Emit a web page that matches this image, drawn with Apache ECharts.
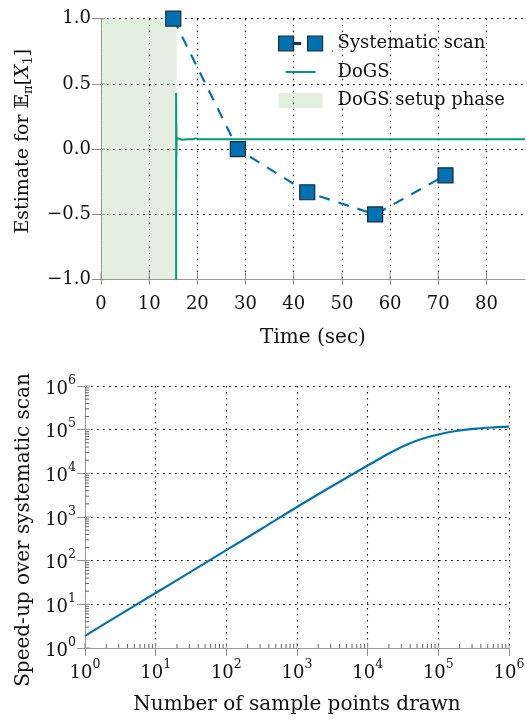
<!DOCTYPE html>
<html>
<head>
<meta charset="utf-8">
<script src="https://cdn.jsdelivr.net/npm/echarts@6/dist/echarts.min.js"></script>
<style>
html,body{margin:0;padding:0;background:#fff;}
#chart{width:527px;height:720px;}
</style>
</head>
<body>
<div id="chart"></div>
<script>
// ---------- data (top panel) ----------
const timeTicks = [0, 10, 20, 30, 40, 50, 60, 70, 80];
const estimateTicks = [-1.0, -0.5, 0.0, 0.5, 1.0];
const scanTime = [15.0, 28.4, 42.8, 56.9, 71.5];
const scanEstimate = [1.0, 0.0, -0.33, -0.5, -0.2];
const dogsTime = [15.6, 15.6, 15.62, 15.64, 15.66, 15.7, 15.8, 16.0, 16.4, 16.9, 17.4, 18.0, 19.0, 19.6, 20.2, 21.0, 23.0, 26.0, 30.0, 35.0, 40.0, 50.0, 60.0, 70.0, 80.0, 88.0];
const dogsEstimate = [-1.0, 0.43, -0.25, 0.2, -0.05, 0.06, 0.085, 0.07, 0.078, 0.072, 0.075, 0.077, 0.076, 0.083, 0.077, 0.076, 0.077, 0.077, 0.077, 0.077, 0.077, 0.077, 0.077, 0.077, 0.077, 0.077];
const setupPhaseEnd = 15.7;

// ---------- data (bottom panel) ----------
const samplePoints = [1, 3.16, 10, 31.6, 100, 316, 1000, 3162, 10000, 17783, 31623, 56234, 100000, 177828, 316228, 562341, 1000000];
const speedUp = [1.9, 5.9, 18.2, 56, 174, 537, 1700, 5130, 15100, 25700, 41700, 60300, 77600, 93300, 104700, 112200, 117500];
const logMajorTicks = [1, 10, 100, 1000, 10000, 100000, 1000000];
// minor tick positions of the log axes (2..9 times each decade; axis decoration only)
const logMinorTicks = [];
for (let d = 1; d < 1e6; d *= 10) for (let m = 2; m < 10; m++) logMinorTicks.push(m * d);

const FONT = 'DejaVu Serif';
const SHADE = 'rgba(120,175,110,0.2)';
const TICKCOL = '#8f8f8f';
const GRIDLINE = {show: true, lineStyle: {color: '#000', type: [1.6, 4.4], width: 1.1}};
const AXLINE = {show: true, onZero: false, lineStyle: {color: '#9a9a9a', width: 1}};

function fmtLin(v) { return v.toFixed(1).replace('-', '\u2212'); }
function fmtLog(v) { return '{b|10}{s|' + Math.round(Math.log10(v)) + '}'; }
const logRich = {
  b: {fontFamily: FONT, fontSize: 18, color: '#111', lineHeight: 24, verticalAlign: 'bottom'},
  s: {fontFamily: FONT, fontSize: 12.5, color: '#111', lineHeight: 14, verticalAlign: 'top'}
};
const NAME = {fontFamily: FONT, fontSize: 20, color: '#111'};

// inward tick marks drawn through the axes' own scales
function tickSeries(xi, yi, values, dir, base, len, color) {
  return {
    type: 'custom', coordinateSystem: 'cartesian2d', xAxisIndex: xi, yAxisIndex: yi,
    silent: true, clip: false, z: 6,
    encode: {x: 0, y: 1},
    data: values.map(v => dir === 'x' ? [v, base] : [base, v]),
    renderItem: function (params, api) {
      const p = api.coord([api.value(0), api.value(1)]);
      const shape = dir === 'x'
        ? {x1: p[0], y1: p[1], x2: p[0], y2: p[1] - len}
        : {x1: p[0], y1: p[1], x2: p[0] + len, y2: p[1]};
      return {type: 'line', shape: shape, style: {stroke: color, lineWidth: 1, fill: null}};
    }
  };
}

const chart = echarts.init(document.getElementById('chart'), null, {renderer: 'canvas'});
const option = {
  backgroundColor: '#fff',
  animation: false,
  textStyle: {fontFamily: FONT},
  grid: [
    {left: 101, top: 18.7, width: 424, height: 261, outerBoundsMode: 'none'},
    {left: 85, top: 386, width: 424, height: 262, outerBoundsMode: 'none'}
  ],
  legend: {
    orient: 'vertical', left: 278, top: 33, padding: 0, itemGap: 7.5,
    itemWidth: 54, itemHeight: 15,
    textStyle: {fontFamily: FONT, fontSize: 18, color: '#111', lineHeight: 21},
    data: [
      {name: 'Systematic scan', icon: 'path://M0,0H15V15H0Z M15,6.6H22V8.4H15Z M29,0H44V15H29Z M54,15h0.01v0.01h-0.01Z',
       itemStyle: {color: '#0072b2', borderColor: '#1c2b3a', borderWidth: 1.2}},
      {name: 'DoGS', icon: 'path://M0,0h0.01v0.01h-0.01Z M7,6.5H37V8.5H7Z M54,15h0.01v0.01h-0.01Z',
       itemStyle: {color: '#009e73', borderWidth: 0}},
      {name: 'DoGS setup phase', icon: 'path://M0,0H44V15H0Z M54,15h0.01v0.01h-0.01Z',
       itemStyle: {color: SHADE, borderWidth: 0}}
    ]
  },
  xAxis: [
    {gridIndex: 0, type: 'value', min: 0, max: 88, interval: 10,
     name: 'Time (sec)', nameLocation: 'middle', nameGap: 48, nameTextStyle: NAME,
     axisLine: AXLINE, axisTick: {show: true, length: 5, lineStyle: {color: TICKCOL}, customValues: timeTicks},
     axisLabel: {fontFamily: FONT, fontSize: 18, color: '#111', margin: 16, customValues: timeTicks, formatter: v => String(v)},
     splitLine: GRIDLINE},
    {gridIndex: 1, type: 'log', logBase: 10, min: 1, max: 1e6, splitNumber: 6,
     name: 'Number of sample points drawn', nameLocation: 'middle', nameGap: 47, nameTextStyle: NAME,
     axisLine: AXLINE, axisTick: {show: true, length: 8, lineStyle: {color: TICKCOL}},
     axisLabel: {margin: 10, formatter: fmtLog, rich: logRich},
     splitLine: GRIDLINE}
  ],
  yAxis: [
    {gridIndex: 0, type: 'value', min: -1, max: 1, interval: 0.5,
     name: 'Estimate for {bb|\uD835\uDD3C}{sub|\u03C0}[{it|X}{sub|1}]', nameLocation: 'middle', nameGap: 66, nameRotate: 90,
     nameTextStyle: {fontFamily: FONT, fontSize: 19, color: '#111', lineHeight: 24, padding: [0, 0, 0, 16],
       rich: {
         bb: {fontFamily: FONT, fontSize: 19, color: '#111', lineHeight: 24},
         sub: {fontFamily: FONT, fontSize: 13, color: '#111', lineHeight: 16, verticalAlign: 'bottom'},
         it: {fontFamily: FONT, fontSize: 19, fontStyle: 'italic', color: '#111', lineHeight: 24}
       }},
     axisLine: AXLINE, axisTick: {show: true, length: 9, lineStyle: {color: TICKCOL}, customValues: estimateTicks},
     axisLabel: {fontFamily: FONT, fontSize: 18, color: '#111', margin: 10, customValues: estimateTicks, formatter: fmtLin},
     splitLine: GRIDLINE},
    {gridIndex: 1, type: 'log', logBase: 10, min: 1, max: 1e6, splitNumber: 6,
     name: 'Speed-up over systematic scan', nameLocation: 'middle', nameGap: 50, nameRotate: 90,
     nameTextStyle: {fontFamily: FONT, fontSize: 20, color: '#111', padding: [0, 26, 0, 0]},
     axisLine: AXLINE, axisTick: {show: true, length: 8, lineStyle: {color: TICKCOL}},
     axisLabel: {margin: 9, formatter: fmtLog, rich: logRich},
     splitLine: GRIDLINE}
  ],
  series: [
    {name: 'DoGS setup phase', type: 'line', xAxisIndex: 0, yAxisIndex: 0, data: [], z: 0,
     itemStyle: {color: SHADE}, lineStyle: {width: 0},
     markArea: {silent: true, itemStyle: {color: SHADE},
       data: [[{xAxis: 0}, {xAxis: setupPhaseEnd}]]}},
    {name: 'Systematic scan', type: 'line', xAxisIndex: 0, yAxisIndex: 0, z: 3,
     data: scanTime.map((t, i) => [t, scanEstimate[i]]),
     symbol: 'rect', symbolSize: 15, showAllSymbol: true,
     itemStyle: {color: '#0072b2', borderColor: '#1c2b3a', borderWidth: 1.2},
     lineStyle: {color: '#0072b2', width: 2.2, type: [11, 9]}},
    {name: 'DoGS', type: 'line', xAxisIndex: 0, yAxisIndex: 0, z: 4,
     data: dogsTime.map((t, i) => [t, dogsEstimate[i]]),
     symbol: 'none', itemStyle: {color: '#009e73'},
     lineStyle: {color: '#009e73', width: 2}},
    {name: 'Speed-up', type: 'line', xAxisIndex: 1, yAxisIndex: 1, z: 3,
     data: samplePoints.map((n, i) => [n, speedUp[i]]),
     symbol: 'none', smooth: 0.3, itemStyle: {color: '#0072b2'},
     lineStyle: {color: '#0072b2', width: 2.2}},
    // inner halves of the crossing major ticks and the minor ticks
    tickSeries(0, 0, timeTicks, 'x', -1, 7, TICKCOL),
    tickSeries(0, 0, estimateTicks, 'y', 0, 4, TICKCOL),
    tickSeries(1, 1, logMajorTicks, 'x', 1, 5, TICKCOL),
    tickSeries(1, 1, logMajorTicks, 'y', 1, 5, TICKCOL),
    tickSeries(1, 1, logMinorTicks, 'x', 1, 4, '#666'),
    tickSeries(1, 1, logMinorTicks, 'y', 1, 4, '#666')
  ]
};
chart.setOption(option);
</script>
</body>
</html>
